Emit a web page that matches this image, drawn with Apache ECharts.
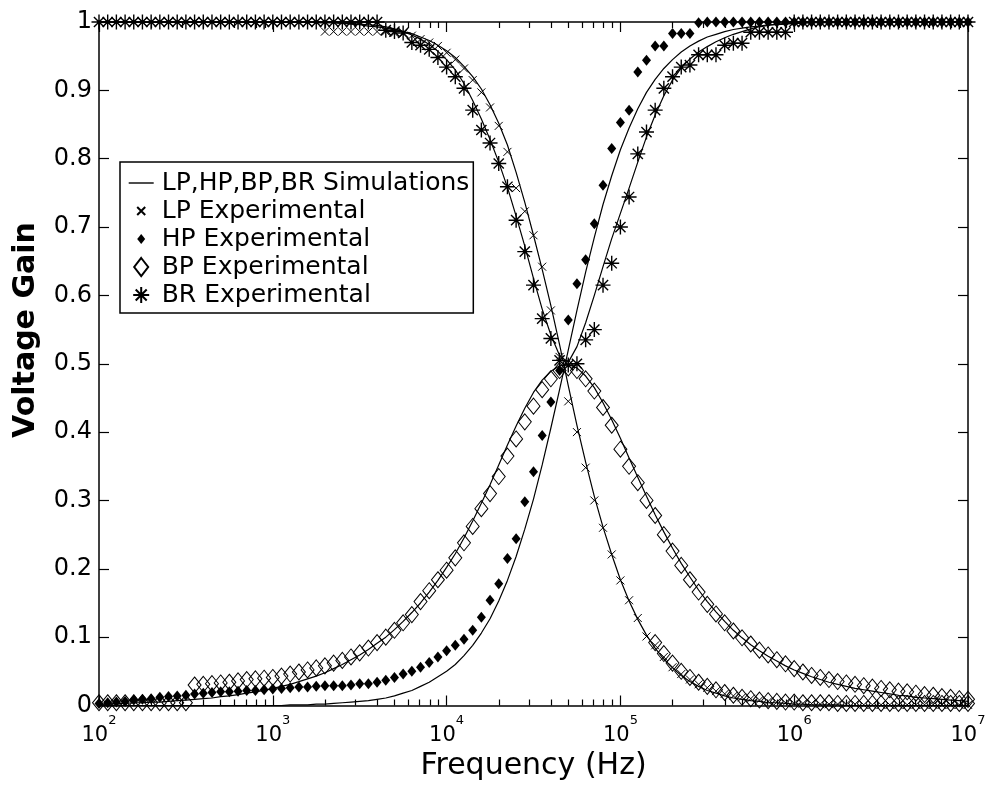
<!DOCTYPE html>
<html>
<head>
<meta charset="utf-8">
<title>Voltage Gain vs Frequency</title>
<script src="https://cdn.jsdelivr.net/npm/echarts@6.0.0/dist/echarts.min.js"></script>
<style>
  html, body { margin: 0; padding: 0; background: #fff; }
  #chart { width: 990px; height: 790px; }
</style>
</head>
<body>
<div id="chart"></div>
<script>
// Measurement frequencies (Hz), 20 points per decade from 100 Hz to 10 MHz
const freq = [
  100, 112.2, 125.9, 141.3, 158.5, 177.8, 199.5, 223.9, 251.2, 281.8,
  316.2, 354.8, 398.1, 446.7, 501.2, 562.3, 631, 707.9, 794.3, 891.3,
  1000, 1122, 1259, 1413, 1585, 1778, 1995, 2239, 2512, 2818,
  3162, 3548, 3981, 4467, 5012, 5623, 6310, 7079, 7943, 8913,
  10000, 11220, 12590, 14130, 15850, 17780, 19950, 22390, 25120, 28180,
  31620, 35480, 39810, 44670, 50120, 56230, 63100, 70790, 79430, 89130,
  100000, 112200, 125900, 141300, 158500, 177800, 199500, 223900, 251200, 281800,
  316200, 354800, 398100, 446700, 501200, 562300, 631000, 707900, 794300, 891300,
  1000000, 1122000, 1259000, 1413000, 1585000, 1778000, 1995000, 2239000, 2512000, 2818000,
  3162000, 3548000, 3981000, 4467000, 5012000, 5623000, 6310000, 7079000, 7943000, 8913000,
  10000000
];

// Simulated responses
const lpSim = [
  1, 1, 1, 1, 1, 1, 1, 1, 1, 1,
  1, 1, 1, 1, 1, 1, 1, 1, 1, 1,
  1, 1, 1, 1, 1, 0.999, 0.999, 0.999, 0.998, 0.997,
  0.996, 0.994, 0.993, 0.991, 0.989, 0.986, 0.983, 0.978, 0.973, 0.966,
  0.958, 0.948, 0.935, 0.92, 0.902, 0.879, 0.852, 0.82, 0.78, 0.736,
  0.688, 0.638, 0.585, 0.528, 0.468, 0.41, 0.356, 0.306, 0.261, 0.221,
  0.184, 0.153, 0.126, 0.103, 0.084, 0.068, 0.055, 0.044, 0.035, 0.028,
  0.022, 0.018, 0.014, 0.011, 0.009, 0.007, 0.006, 0.004, 0.004, 0.003,
  0.002, 0.002, 0.001, 0.001, 0.001, 0.001, 0, 0, 0, 0,
  0, 0, 0, 0, 0, 0, 0, 0, 0, 0,
  0
];
const hpSim = [
  0, 0, 0, 0, 0, 0, 0, 0, 0, 0,
  0, 0, 0, 0, 0, 0, 0, 0, 0, 0,
  0, 0, 0.001, 0.001, 0.001, 0.002, 0.002, 0.003, 0.004, 0.005,
  0.006, 0.007, 0.009, 0.011, 0.014, 0.018, 0.022, 0.028, 0.034, 0.042,
  0.05, 0.06, 0.073, 0.088, 0.106, 0.127, 0.153, 0.183, 0.218, 0.258,
  0.302, 0.352, 0.406, 0.462, 0.52, 0.578, 0.634, 0.685, 0.733, 0.775,
  0.813, 0.845, 0.873, 0.897, 0.916, 0.932, 0.945, 0.956, 0.965, 0.972,
  0.978, 0.982, 0.986, 0.989, 0.991, 0.993, 0.994, 0.996, 0.996, 0.997,
  0.998, 0.998, 0.999, 0.999, 0.999, 0.999, 1, 1, 1, 1,
  1, 1, 1, 1, 1, 1, 1, 1, 1, 1,
  1
];
const bpSim = [
  0.002, 0.002, 0.003, 0.003, 0.004, 0.004, 0.005, 0.005, 0.006, 0.007,
  0.008, 0.009, 0.01, 0.011, 0.013, 0.014, 0.016, 0.018, 0.02, 0.022,
  0.025, 0.028, 0.031, 0.035, 0.039, 0.043, 0.048, 0.054, 0.06, 0.067,
  0.074, 0.082, 0.091, 0.1, 0.111, 0.123, 0.136, 0.15, 0.166, 0.183,
  0.202, 0.222, 0.245, 0.27, 0.296, 0.323, 0.352, 0.381, 0.409, 0.435,
  0.458, 0.476, 0.489, 0.497, 0.499, 0.494, 0.482, 0.465, 0.443, 0.418,
  0.391, 0.362, 0.334, 0.306, 0.279, 0.254, 0.23, 0.208, 0.188, 0.169,
  0.152, 0.137, 0.123, 0.11, 0.099, 0.089, 0.08, 0.072, 0.065, 0.058,
  0.052, 0.047, 0.042, 0.038, 0.034, 0.031, 0.028, 0.025, 0.023, 0.021,
  0.019, 0.017, 0.015, 0.014, 0.012, 0.011, 0.01, 0.009, 0.008, 0.007,
  0.006
];
const brSim = [
  1, 1, 1, 1, 1, 1, 1, 1, 1, 1,
  1, 1, 1, 1, 1, 1, 1, 1, 1, 1,
  1, 1, 1, 1, 1, 0.999, 0.999, 0.999, 0.998, 0.998,
  0.997, 0.996, 0.995, 0.993, 0.99, 0.986, 0.981, 0.975, 0.967, 0.957,
  0.945, 0.93, 0.91, 0.885, 0.858, 0.828, 0.795, 0.758, 0.716, 0.672,
  0.625, 0.58, 0.542, 0.512, 0.502, 0.525, 0.56, 0.6, 0.642, 0.683,
  0.72, 0.757, 0.795, 0.832, 0.864, 0.892, 0.915, 0.933, 0.946, 0.956,
  0.964, 0.971, 0.977, 0.982, 0.986, 0.99, 0.993, 0.995, 0.997, 0.998,
  0.999, 0.999, 1, 1, 1, 1, 1, 1, 1, 1,
  1, 1, 1, 1, 1, 1, 1, 1, 1, 1,
  1
];

// Measured responses
const lpExp = [
  1, 1, 1, 1, 1, 1, 1, 1, 1, 1,
  1, 1, 1, 1, 1, 1, 1, 1, 1, 1,
  1, 1, 1, 1, 1, 1, 0.986, 0.986, 0.986, 0.986,
  0.986, 0.986, 0.986, 0.986, 0.984, 0.983, 0.98, 0.975, 0.97, 0.965,
  0.955, 0.945, 0.932, 0.915, 0.897, 0.875, 0.848, 0.81, 0.757, 0.723,
  0.688, 0.642, 0.578, 0.51, 0.445, 0.4, 0.348, 0.3, 0.26, 0.221,
  0.183, 0.154, 0.128, 0.101, 0.088, 0.071, 0.056, 0.046, 0.038, 0.031,
  0.026, 0.021, 0.017, 0.014, 0.012, 0.01, 0.008, 0.006, 0.005, 0.004,
  0.003, 0.003, 0.003, 0.002, 0.002, 0.002, 0.002, 0.002, 0.001, 0.001,
  0.001, 0.001, 0.001, 0.001, 0.001, 0.001, 0.001, 0.001, 0.001, 0.001,
  0.001
];
const hpExp = [
  0.003, 0.004, 0.005, 0.006, 0.008, 0.009, 0.01, 0.012, 0.013, 0.014,
  0.015, 0.017, 0.018, 0.019, 0.02, 0.02, 0.021, 0.022, 0.022, 0.023,
  0.024, 0.025, 0.026, 0.027, 0.027, 0.028, 0.029, 0.029, 0.029, 0.03,
  0.032, 0.032, 0.034, 0.037, 0.041, 0.046, 0.05, 0.056, 0.063, 0.071,
  0.08, 0.088, 0.097, 0.11, 0.129, 0.154, 0.178, 0.215, 0.244, 0.298,
  0.342, 0.395, 0.444, 0.49, 0.564, 0.617, 0.652, 0.705, 0.761, 0.815,
  0.853, 0.871, 0.927, 0.944, 0.965, 0.965, 0.983, 0.983, 0.983, 0.999,
  1, 1, 1, 1, 1, 1, 1, 1, 1, 1,
  1, 1, 1, 1, 1, 1, 1, 1, 1, 1,
  1, 1, 1, 1, 1, 1, 1, 1, 1, 1,
  1
];
const bpExp = [
  0.004, 0.004, 0.004, 0.004, 0.004, 0.004, 0.004, 0.004, 0.004, 0.004,
  0.004, 0.03, 0.031, 0.032, 0.033, 0.034, 0.036, 0.038, 0.039, 0.04,
  0.041, 0.043, 0.046, 0.049, 0.052, 0.055, 0.058, 0.062, 0.066, 0.071,
  0.077, 0.084, 0.092, 0.1, 0.11, 0.121, 0.133, 0.152, 0.168, 0.184,
  0.198, 0.216, 0.238, 0.262, 0.288, 0.31, 0.335, 0.365, 0.39, 0.415,
  0.438, 0.462, 0.478, 0.49, 0.494, 0.49, 0.478, 0.46, 0.436, 0.41,
  0.375, 0.35, 0.326, 0.3, 0.278, 0.25, 0.226, 0.205, 0.184, 0.166,
  0.148, 0.134, 0.121, 0.109, 0.099, 0.09, 0.081, 0.074, 0.067, 0.061,
  0.054, 0.049, 0.044, 0.041, 0.038, 0.035, 0.033, 0.031, 0.029, 0.027,
  0.025, 0.023, 0.021, 0.02, 0.018, 0.016, 0.015, 0.013, 0.012, 0.01,
  0.009
];
// Second band-pass run, recorded from 158.5 kHz upward
const bpExpTailStart = 64;
const bpExpTail = [
  0.092, 0.076, 0.062, 0.05, 0.041, 0.034, 0.028, 0.023, 0.019, 0.015,
  0.012, 0.01, 0.008, 0.007, 0.006, 0.005, 0.005, 0.004, 0.004, 0.004,
  0.004, 0.003, 0.003, 0.003, 0.003, 0.003, 0.003, 0.003, 0.003, 0.003,
  0.003, 0.003, 0.003, 0.003, 0.003, 0.003, 0.003
];
const brExp = [
  1, 1, 1, 1, 1, 1, 1, 1, 1, 1,
  1, 1, 1, 1, 1, 1, 1, 1, 1, 1,
  1, 1, 1, 1, 1, 1, 1, 1, 1, 1,
  1, 1, 1, 0.988, 0.986, 0.984, 0.97, 0.966, 0.96, 0.948,
  0.934, 0.92, 0.903, 0.871, 0.842, 0.823, 0.793, 0.759, 0.71, 0.664,
  0.615, 0.566, 0.537, 0.505, 0.498, 0.5, 0.535, 0.55, 0.615, 0.647,
  0.7, 0.744, 0.807, 0.839, 0.871, 0.903, 0.92, 0.934, 0.937, 0.952,
  0.952, 0.952, 0.966, 0.969, 0.969, 0.985, 0.985, 0.985, 0.985, 0.985,
  1, 1, 1, 1, 1, 1, 1, 1, 1, 1,
  1, 1, 1, 1, 1, 1, 1, 1, 1, 1,
  1
];

// Axis ticks
const decadeTicks = [1e2, 1e3, 1e4, 1e5, 1e6, 1e7];
const minorTicks = [
  200, 300, 400, 500, 600, 700, 800, 900,
  2000, 3000, 4000, 5000, 6000, 7000, 8000, 9000,
  20000, 30000, 40000, 50000, 60000, 70000, 80000, 90000,
  200000, 300000, 400000, 500000, 600000, 700000, 800000, 900000,
  2000000, 3000000, 4000000, 5000000, 6000000, 7000000, 8000000, 9000000
];

const SIM_NAME = 'LP,HP,BP,BR Simulations';
const legendNames = [SIM_NAME, 'LP Experimental', 'HP Experimental', 'BP Experimental', 'BR Experimental'];

const FONT = '"DejaVu Sans", sans-serif';
const INK = '#000';

const pairs = (ys, xs) => ys.map((y, i) => [(xs || freq)[i], y]);

const crossPath = 'path://M0,0L10,10M10,0L0,10';
const starPath = 'path://M5,0L5,10M0,5L10,5M1.6,1.6L8.4,8.4M8.4,1.6L1.6,8.4';

function simLine(values) {
  return {
    name: SIM_NAME, type: 'line', data: pairs(values),
    showSymbol: false, symbol: 'none', smooth: false, silent: true,
    lineStyle: { color: INK, width: 1.2, opacity: 1 }, itemStyle: { color: INK },
    z: 3
  };
}

const hollow = { color: 'rgba(0,0,0,0)', borderColor: INK, opacity: 1 };

function logAxis(position, ticks, len, showLine) {
  return {
    type: 'log', logBase: 10, min: 100, max: 1e7, position,
    axisLine: { show: showLine, onZero: false, lineStyle: { color: INK, width: 1.5 } },
    axisTick: { show: true, inside: true, length: len, customValues: ticks, lineStyle: { color: INK, width: 1.2 } },
    axisLabel: { show: false },
    splitLine: { show: false },
    minorTick: { show: false },
    silent: true
  };
}

const xMain = logAxis('bottom', decadeTicks, 10, true);
xMain.axisLabel = {
  show: true,
  customValues: decadeTicks,
  margin: 9,
  color: INK,
  formatter: (v) => '{b|10}{s|' + Math.round(Math.log10(v)) + '}',
  rich: {
    b: { fontFamily: FONT, fontSize: 21, color: INK, lineHeight: 32, verticalAlign: 'bottom' },
    s: { fontFamily: FONT, fontSize: 13, color: INK, lineHeight: 32, verticalAlign: 'top' }
  }
};
xMain.name = 'Frequency (Hz)';
xMain.nameLocation = 'middle';
xMain.nameGap = 46;
xMain.nameTextStyle = { fontFamily: FONT, fontSize: 30, color: INK };

function valueAxis(position, labels) {
  return {
    type: 'value', min: 0, max: 1, interval: 0.1, position,
    axisLine: { show: true, onZero: false, lineStyle: { color: INK, width: 1.5 } },
    axisTick: { show: true, inside: true, length: 10, lineStyle: { color: INK, width: 1.2 } },
    axisLabel: { show: labels, fontFamily: FONT, fontSize: 24, color: INK, margin: 7 },
    splitLine: { show: false },
    silent: true
  };
}

const option = {
  animation: false,
  backgroundColor: '#fff',
  grid: { left: 99, right: 22, top: 22, bottom: 84.5, containLabel: false },
  xAxis: [
    xMain,
    logAxis('bottom', minorTicks, 6, false),
    logAxis('top', decadeTicks, 10, true),
    logAxis('top', minorTicks, 6, false)
  ],
  yAxis: [valueAxis('left', true), valueAxis('right', false)],
  legend: {
    orient: 'vertical', left: 120, top: 162,
    padding: [7, 4, 4, 8], itemGap: 0, itemWidth: 25, itemHeight: 20,
    backgroundColor: '#fff', borderColor: INK, borderWidth: 1.5,
    selectedMode: false,
    textStyle: { fontFamily: FONT, fontSize: 25, color: INK, lineHeight: 28, padding: [0, 0, 0, 3] },
    data: [
      { name: legendNames[0], icon: 'path://M0,-10M0,10M0,0L25,0',
        itemStyle: { color: 'rgba(0,0,0,0)', borderColor: INK, borderWidth: 1.4, opacity: 1 } },
      { name: legendNames[1], icon: 'path://M0,0M20,20M6,6L14,14M14,6L6,14' },
      { name: legendNames[2], icon: 'path://M0,0M20,20M10,5L14,10L10,15L6,10Z' },
      { name: legendNames[3], icon: 'path://M0,0M20,20M10,1L17,10L10,19L3,10Z' },
      { name: legendNames[4], icon: 'path://M0,0M20,20M10,2L10,18M2,10L18,10M4.5,4.5L15.5,15.5M15.5,4.5L4.5,15.5' }
    ]
  },
  graphic: [{
    type: 'text', x: 26, y: 330, rotation: Math.PI / 2, silent: true,
    style: { text: 'Voltage Gain', font: 'bold 30px "DejaVu Sans", sans-serif', fill: INK, align: 'center', verticalAlign: 'middle' }
  }],
  series: [
    simLine(lpSim), simLine(hpSim), simLine(bpSim), simLine(brSim),
    {
      name: legendNames[3], type: 'scatter', data: pairs(bpExp), clip: false, silent: true,
      symbol: 'diamond', symbolSize: [13, 16],
      itemStyle: Object.assign({ borderWidth: 1 }, hollow), z: 4
    },
    {
      name: legendNames[3], type: 'scatter', clip: false, silent: true,
      data: pairs(bpExpTail, freq.slice(bpExpTailStart)),
      symbol: 'diamond', symbolSize: [13, 16],
      itemStyle: Object.assign({ borderWidth: 1 }, hollow), z: 4
    },
    {
      name: legendNames[1], type: 'scatter', data: pairs(lpExp), clip: false, silent: true,
      symbol: crossPath, symbolSize: 8,
      itemStyle: Object.assign({ borderWidth: 1 }, hollow), z: 5
    },
    {
      name: legendNames[2], type: 'scatter', data: pairs(hpExp), clip: false, silent: true,
      symbol: 'diamond', symbolSize: [9, 11],
      itemStyle: { color: INK, opacity: 1 }, z: 5
    },
    {
      name: legendNames[4], type: 'scatter', data: pairs(brExp), clip: false, silent: true,
      symbol: starPath, symbolSize: 15,
      itemStyle: Object.assign({ borderWidth: 1.4 }, hollow), z: 6
    }
  ]
};

const chart = echarts.init(document.getElementById('chart'), null, { renderer: 'canvas' });
chart.setOption(option);
</script>
</body>
</html>
